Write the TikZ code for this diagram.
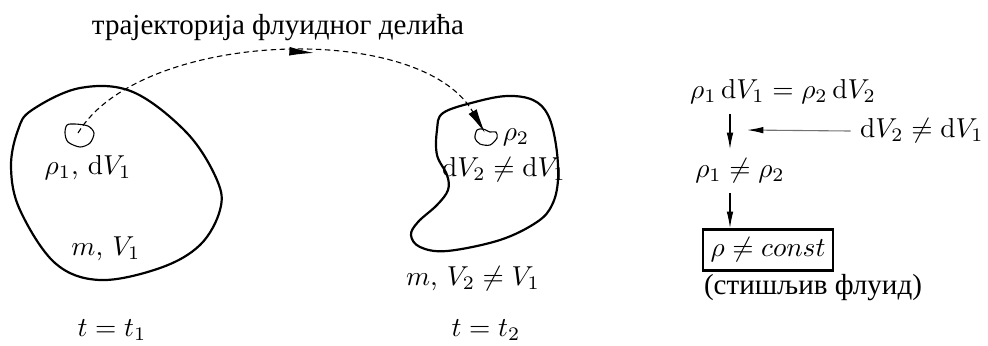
\documentclass[tikz,border=0pt]{standalone}
\usepackage{fontspec}
\newfontfamily\cyrfont{Liberation Serif}
\usetikzlibrary{arrows.meta,calc,decorations.markings}
\usepackage{tkz-euclide}

\begin{document}
\begin{tikzpicture}[x=0.365pt,y=-0.365pt,
  blob/.style={line width=0.8pt,line join=round},
  speck/.style={line width=0.4pt},
  traj/.style={line width=0.4pt,dash pattern=on 2pt off 1.3pt,
    -{Latex[length=9pt,width=3.4pt]},postaction={decorate},
    decoration={markings,mark=at position 0.57 with {\arrow{Latex[length=9pt,width=3.2pt]}}}},
  flow/.style={line width=0.4pt,-{Latex[length=6pt,width=2.4pt]}},
  cyr/.style={font=\cyrfont\fontsize{10.6}{12}\selectfont},
  framed/.style={draw,line width=1pt,minimum width=47.5pt,minimum height=15pt,inner sep=2pt}]
\useasboundingbox (0,0) rectangle (988,345);

\tkzDefPoints{78/133/A,485/133/B,730/0/C,747/130/H}

\draw[blob] plot[smooth cycle,tension=0.6] coordinates {(32,110) (80,88) (133,92) (187,133)
  (217,180) (220,210) (200,245) (160,268) (100,280) (55,263) (20,210) (11,167) (18,130)};
\draw[blob] plot[smooth cycle,tension=0.6] coordinates {(443,113) (475,102) (507,96) (533,100)
  (548,115) (556,145) (558,180) (552,205) (537,222) (500,240) (447,251) (420,247) (411,235)
  (418,222) (437,205) (448,190) (447,175) (437,155) (437,130)};

\draw[speck] plot[smooth cycle] coordinates {(67,125) (75,124) (88,126) (94,133) (90,143) (80,147) (68,142) (65,133)};
\draw[speck] plot[smooth cycle] coordinates {(477,130) (483,129) (490,132) (496,132) (497,138) (490,145) (480,144) (475,138)};

\draw[traj] (A) .. controls (140,30) and (420,20) .. (B);

\node[cyr] (title) at (278,28) {трајекторија флуидног делића};
\node (r1) at (88,168) {$\rho_1$, $\mathrm{d}V_1$};
\node (m1) at (106,249) {$m$, $V_1$};
\node (t1) at (112,330) {$t=t_1$};
\node (r2) at (516,137) {$\rho_2$};
\node (dv) at (504,170) {$\mathrm{d}V_2\neq\mathrm{d}V_1$};
\node (m2) at (473,279) {$m$, $V_2\neq V_1$};
\node (t2) at (486,330) {$t=t_2$};

\node (eq) at (783,92) {$\rho_1\,\mathrm{d}V_1=\rho_2\,\mathrm{d}V_2$};
\node (dvr) at (922,131) {$\mathrm{d}V_2\neq\mathrm{d}V_1$};
\node (ne) at (740,171) {$\rho_1\neq\rho_2$};
\node[framed] (res) at (768,250) {$\rho\neq const$};
\node[cyr] (comp) at (813,288) {(стишљив флуид)};

\draw[flow] (eq.south -| C) -- (ne.north -| C);
\draw[flow,black!55,-{Latex[length=6pt,width=2.4pt,color=black]}] (dvr.west) -- (H);
\draw[flow] (ne.south -| C) -- (res.north -| C);

\end{tikzpicture}
\end{document}
